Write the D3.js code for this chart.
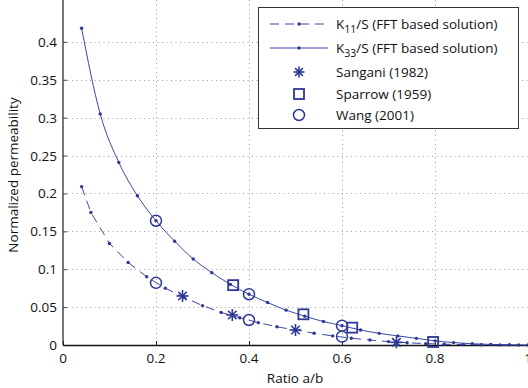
<!DOCTYPE html>
<html>
<head>
<meta charset="utf-8">
<script src="https://cdn.jsdelivr.net/npm/d3@7"></script>
<style>
  body { margin: 0; background: #fff; }
  svg { display: block; font-family: "Open Sans", "DejaVu Sans", sans-serif; }
</style>
</head>
<body>
<svg width="528" height="388"></svg>
<script>
// K11/S, FFT based solution
var k11X = [0.04, 0.06, 0.10, 0.14, 0.18, 0.22, 0.26, 0.30, 0.34, 0.38, 0.42, 0.46, 0.50,
            0.54, 0.58, 0.62, 0.66, 0.70, 0.74, 0.78, 0.82, 0.86, 0.90, 0.94, 0.98];
var k11Y = [0.209, 0.175, 0.134, 0.109, 0.090, 0.075, 0.063, 0.052, 0.043, 0.036, 0.0295, 0.024, 0.0198,
            0.0155, 0.012, 0.009, 0.0065, 0.0045, 0.003, 0.0018, 0.001, 0.0005, 0.0003, 0.0001, 0];

// K33/S, FFT based solution
var k33X = [0.04, 0.08, 0.12, 0.16, 0.20, 0.24, 0.28, 0.32, 0.36, 0.40, 0.44, 0.48, 0.52,
            0.56, 0.60, 0.64, 0.68, 0.72, 0.76, 0.80, 0.84, 0.88, 0.92, 0.96, 1.00];
var k33Y = [0.418, 0.305, 0.241, 0.197, 0.164, 0.137, 0.1135, 0.0955, 0.080, 0.067, 0.056, 0.046, 0.038,
            0.031, 0.0255, 0.0198, 0.0154, 0.012, 0.0088, 0.0055, 0.0032, 0.0016, 0.0008, 0.0003, 0];

var sanganiX = [0.257, 0.364, 0.50, 0.717];
var sanganiY = [0.0647, 0.0396, 0.0198, 0.0035];

var sparrowX = [0.366, 0.517, 0.622, 0.796];
var sparrowY = [0.079, 0.0405, 0.0229, 0.0040];

var wangX = [0.2, 0.2, 0.4, 0.4, 0.6, 0.6];
var wangY = [0.164, 0.082, 0.067, 0.033, 0.0255, 0.011];

var xTicks = [0, 0.2, 0.4, 0.6, 0.8, 1];
var yTicks = [0, 0.05, 0.1, 0.15, 0.2, 0.25, 0.3, 0.35, 0.4];

var lineColor = "#3d46a6", markColor = "#2c3796";

var svg = d3.select("svg");
var pLeft = 63, pRight = 528, pTop = 4, pBottom = 345;

var x = d3.scaleLinear().domain([0, 1]).range([pLeft, pRight]);
var y = d3.scaleLinear().domain([0, 0.45]).range([pBottom, pTop]);

function zip(xs, ys) { return xs.map(function(v, i) { return { x: v, y: ys[i] }; }); }

// grid
var grid = svg.append("g").attr("stroke", "#9a9a9a").attr("stroke-width", 1).attr("stroke-dasharray", "1,3.5");
grid.selectAll(".hg").data(yTicks.slice(1)).join("line")
  .attr("x1", pLeft).attr("x2", pRight)
  .attr("y1", function(d) { return Math.round(y(d)) + 0.5; })
  .attr("y2", function(d) { return Math.round(y(d)) + 0.5; });
grid.selectAll(".vg").data(xTicks.slice(1)).join("line")
  .attr("y1", 0).attr("y2", pBottom)
  .attr("x1", function(d) { return Math.round(x(d)) + 0.5; })
  .attr("x2", function(d) { return Math.round(x(d)) + 0.5; });

// axes
var yAxis = svg.append("g").attr("transform", "translate(" + pLeft + ",0)")
  .call(d3.axisRight(y).tickValues(yTicks).tickSize(4).tickFormat(""));
yAxis.select(".domain").remove();
yAxis.selectAll("line").attr("stroke", "#444");
svg.append("line").attr("x1", pLeft).attr("x2", pLeft).attr("y1", 0).attr("y2", pBottom)
  .attr("stroke", "#555").attr("stroke-width", 1.6);

svg.selectAll(".ylab").data(yTicks).join("text")
  .attr("x", pLeft - 6).attr("y", function(d) { return y(d) + 5; })
  .attr("text-anchor", "end").attr("font-size", 13.5).attr("fill", "#111")
  .text(function(d) { return d3.format("")(d); });

var xAxis = svg.append("g").attr("transform", "translate(0," + pBottom + ")")
  .call(d3.axisTop(x).tickValues(xTicks).tickSize(4).tickFormat(""));
xAxis.select(".domain").remove();
xAxis.selectAll("line").attr("stroke", "#222");
svg.append("line").attr("x1", pLeft).attr("x2", pRight).attr("y1", pBottom + 0.5).attr("y2", pBottom + 0.5)
  .attr("stroke", "#111").attr("stroke-width", 1.4);

svg.selectAll(".xlab").data(xTicks).join("text")
  .attr("x", function(d) { return x(d); }).attr("y", pBottom + 18)
  .attr("text-anchor", "middle").attr("font-size", 13.5).attr("fill", "#111")
  .text(function(d) { return d3.format("")(d); });

svg.append("text").attr("x", 295).attr("y", 383).attr("text-anchor", "middle")
  .attr("font-size", 13.5).attr("fill", "#111").text("Ratio a/b");
svg.append("text").attr("transform", "translate(18,175) rotate(-90)").attr("text-anchor", "middle")
  .attr("font-size", 13.5).attr("fill", "#111").text("Normalized permeability");

// curves
var line = d3.line().x(function(d) { return x(d.x); }).y(function(d) { return y(d.y); });
var smooth = d3.line().curve(d3.curveMonotoneX).x(function(d) { return x(d.x); }).y(function(d) { return y(d.y); });
var k11 = zip(k11X, k11Y), k33 = zip(k33X, k33Y);

svg.append("path").datum(k11).attr("fill", "none").attr("stroke", lineColor)
  .attr("stroke-width", 1).attr("stroke-dasharray", "9,6").attr("d", line);
svg.append("path").datum(k33).attr("fill", "none").attr("stroke", lineColor)
  .attr("stroke-width", 1).attr("d", smooth);

svg.selectAll(".d11").data(k11).join("circle")
  .attr("cx", function(d) { return x(d.x); }).attr("cy", function(d) { return y(d.y); })
  .attr("r", 1.7).attr("fill", markColor);
svg.selectAll(".d33").data(k33).join("circle")
  .attr("cx", function(d) { return x(d.x); }).attr("cy", function(d) { return y(d.y); })
  .attr("r", 1.7).attr("fill", markColor);

// reference markers
function star(g, cx, cy, r) {
  var s = g.append("g").attr("stroke", markColor).attr("stroke-width", 1.6);
  [0, 45, 90, 135].forEach(function(a) {
    var t = a * Math.PI / 180;
    s.append("line").attr("x1", cx - r * Math.cos(t)).attr("y1", cy - r * Math.sin(t))
      .attr("x2", cx + r * Math.cos(t)).attr("y2", cy + r * Math.sin(t));
  });
}
zip(sanganiX, sanganiY).forEach(function(d) { star(svg, x(d.x), y(d.y), 6); });

svg.selectAll(".sq").data(zip(sparrowX, sparrowY)).join("rect")
  .attr("x", function(d) { return x(d.x) - 5; }).attr("y", function(d) { return y(d.y) - 5; })
  .attr("width", 10).attr("height", 10)
  .attr("fill", "none").attr("stroke", markColor).attr("stroke-width", 1.8);

svg.selectAll(".wc").data(zip(wangX, wangY)).join("circle")
  .attr("cx", function(d) { return x(d.x); }).attr("cy", function(d) { return y(d.y); })
  .attr("r", 5.5).attr("fill", "none").attr("stroke", markColor).attr("stroke-width", 1.5);

// legend
var lg = svg.append("g");
lg.append("rect").attr("x", 258.5).attr("y", 7.5).attr("width", 260).attr("height", 121)
  .attr("fill", "#fff").attr("stroke", "#333").attr("stroke-width", 1);
var lx1 = 270, lx2 = 328, lc = 299, tx = 336;
var rows = [24, 48, 72, 94, 115];

lg.append("line").attr("x1", lx1).attr("x2", lx2).attr("y1", rows[0]).attr("y2", rows[0])
  .attr("stroke", lineColor).attr("stroke-dasharray", "9,6");
lg.append("line").attr("x1", lx1).attr("x2", lx2).attr("y1", rows[1]).attr("y2", rows[1])
  .attr("stroke", lineColor);
lg.append("circle").attr("cx", lc).attr("cy", rows[0]).attr("r", 1.7).attr("fill", markColor);
lg.append("circle").attr("cx", lc).attr("cy", rows[1]).attr("r", 1.7).attr("fill", markColor);
star(lg, lc, rows[2], 5.5);
lg.append("rect").attr("x", lc - 5).attr("y", rows[3] - 5).attr("width", 10).attr("height", 10)
  .attr("fill", "none").attr("stroke", markColor).attr("stroke-width", 1.8);
lg.append("circle").attr("cx", lc).attr("cy", rows[4]).attr("r", 5.5)
  .attr("fill", "none").attr("stroke", markColor).attr("stroke-width", 1.5);

var labels = [["K", "11", "/S (FFT based solution)"], ["K", "33", "/S (FFT based solution)"],
              ["Sangani (1982)"], ["Sparrow (1959)"], ["Wang (2001)"]];
labels.forEach(function(l, i) {
  var t = lg.append("text").attr("x", tx).attr("y", rows[i] + 5)
    .attr("font-size", 13.5).attr("fill", "#111");
  if (l.length === 3) {
    t.append("tspan").text(l[0]);
    t.append("tspan").attr("dy", 4).attr("font-size", 10.5).text(l[1]);
    t.append("tspan").attr("dy", -4).text(l[2]);
  } else {
    t.text(l[0]);
  }
});
</script>
</body>
</html>
